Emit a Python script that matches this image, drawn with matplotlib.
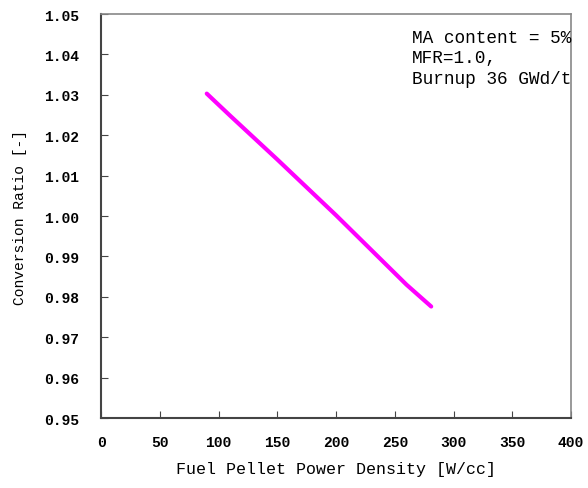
import matplotlib
matplotlib.use("Agg")
import matplotlib.pyplot as plt

# values
power_density = [90, 110, 150, 200, 260, 281]
conversion_ratio = [1.0303, 1.0248, 1.0140, 1.0002, 0.9830, 0.9776]

x_ticks = [0, 50, 100, 150, 200, 250, 300, 350, 400]
y_ticks = [0.95, 0.96, 0.97, 0.98, 0.99, 1.00, 1.01, 1.02, 1.03, 1.04, 1.05]
note_lines = ["MA content = 5%", "MFR=1.0,", "Burnup 36 GWd/t"]

font = "Liberation Mono"

fig = plt.figure(figsize=(5.88, 4.89), dpi=100)
ax = fig.add_axes([0.1718, 0.1431, 0.7993, 0.8262])

ax.plot(power_density, conversion_ratio, color="#ff00ff", linewidth=3,
        solid_capstyle="round", solid_joinstyle="round")

ax.set_xlim(0, 400)
ax.set_ylim(0.95, 1.05)
ax.set_xticks(x_ticks)
ax.set_yticks(y_ticks)
ax.set_xticklabels([str(t) for t in x_ticks], fontfamily=font, fontweight="bold", fontsize=10.5)
ax.set_yticklabels([f"{t:.2f}" for t in y_ticks], fontfamily=font, fontweight="bold", fontsize=10.5)
ax.tick_params(axis="both", direction="in", length=5, color="#444444")
ax.tick_params(axis="x", pad=12)
ax.tick_params(axis="y", pad=16)

for side in ["left", "bottom"]:
    ax.spines[side].set_color("#444444")
    ax.spines[side].set_linewidth(1.5)
for side in ["top", "right"]:
    ax.spines[side].set_color("#888888")
    ax.spines[side].set_linewidth(1.2)

ax.set_xlabel("Fuel Pellet Power Density [W/cc]", fontfamily=font, fontsize=12, labelpad=9)
ax.set_ylabel("Conversion Ratio [-]", fontfamily=font, fontsize=10.5, labelpad=12)

# annotation block, slightly smaller than the reference so it stays inside the figure
fig.text(412 / 588, 1 - 59 / 489, "\n".join(note_lines), fontfamily=font, fontsize=12.8,
         va="center", ha="left", linespacing=1.3, clip_on=False)

fig.savefig("out.png", dpi=100, facecolor="white")
